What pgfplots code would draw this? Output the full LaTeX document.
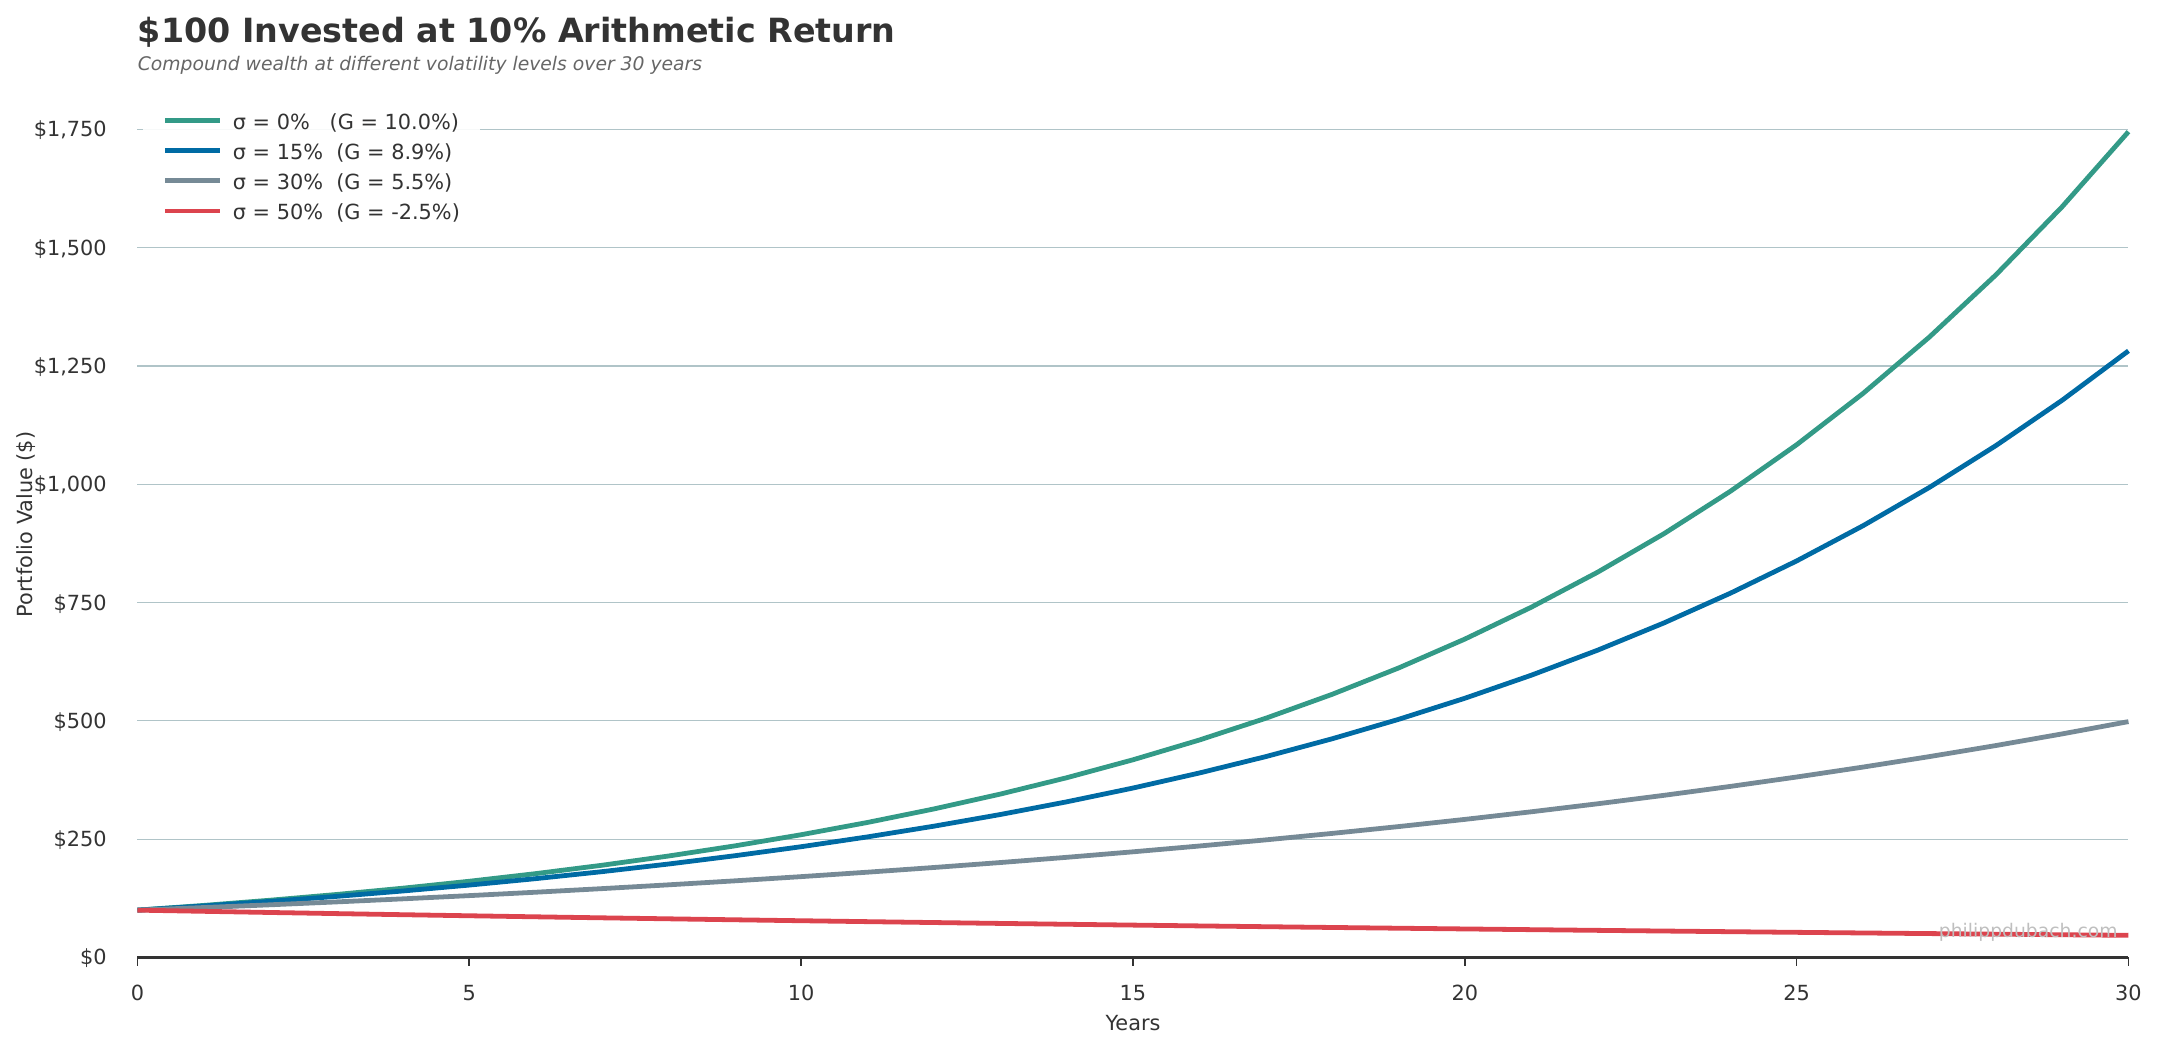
\documentclass[border=0pt]{standalone}
\usepackage{fontspec}
\setmainfont{DejaVu Sans}
\usepackage{pgfplots}
\pgfplotsset{compat=1.18}
\definecolor{cA}{HTML}{339A87}
\definecolor{cB}{HTML}{006BA4}
\definecolor{cC}{HTML}{768A96}
\definecolor{cD}{HTML}{DC444E}
\definecolor{gridc}{HTML}{B0C4C8}
\definecolor{txt}{HTML}{333333}
\definecolor{subc}{HTML}{666666}
\begin{document}
\begin{tikzpicture}
\useasboundingbox (-66pt,-44.4pt) rectangle (969.4pt,459.6pt);
\begin{axis}[
  at={(0,0)}, anchor=south west,
  scale only axis, width=955.7pt, height=415.7pt,
  xmin=0, xmax=30, ymin=0, ymax=1830,
  xtick={0,5,10,15,20,25,30},
  ytick={0,250,500,750,1000,1250,1500,1750},
  yticklabels={\$0,\$250,\$500,\$750,\$1{,}000,\$1{,}250,\$1{,}500,\$1{,}750},
  axis x line=bottom, axis y line=left,
  x axis line style={-, draw=txt, line width=1.1pt},
  y axis line style={draw=none},
  ytick style={draw=none},
  xtick style={draw=txt, line width=0.8pt},
  tick align=outside,
  major tick length=4pt,
  ymajorgrids, grid style={gridc, line width=0.55pt},
  tick label style={font=\fontsize{10}{12}\selectfont, text=txt},
  /pgf/number format/assume math mode=true,
  xticklabel style={anchor=base, inner sep=0pt, yshift=-16.8pt},
  yticklabel style={anchor=base east, inner sep=0pt, xshift=-10.6pt, yshift=-3.6pt},
  xlabel={Years}, ylabel={Portfolio Value (\$)},
  label style={font=\fontsize{10}{12}\selectfont, text=txt},
  xlabel style={at={(rel axis cs:0.5,0)}, anchor=base, yshift=-35.2pt, inner sep=0pt},
  ylabel style={at={(rel axis cs:0,0.5)}, anchor=base, yshift=50.2pt, inner sep=0pt},
  legend style={at={(rel axis cs:0,1)}, anchor=north west, xshift=2.4pt, yshift=-8.1pt,
    draw=none, fill=white, fill opacity=0.9, text opacity=1,
    font=\fontsize{10}{12}\selectfont, text=txt,
    inner xsep=9.5pt, inner ysep=2.2pt, row sep=5.35pt, column sep=5.0pt,
    nodes={inner sep=0pt}},
  legend cell align=left,
  legend image code/.code={\draw[#1] (0pt,1pt) -- (26.4pt,1pt);},
  clip=false,
]
\addplot[cA, line width=2.3pt] coordinates {
(0,100) (1,110) (2,121) (3,133.1) (4,146.41) (5,161.05) (6,177.16) (7,194.87) (8,214.36) (9,235.79) (10,259.37)
(11,285.31) (12,313.84) (13,345.23) (14,379.75) (15,417.72) (16,459.50) (17,505.45) (18,555.99) (19,611.59) (20,672.75)
(21,740.02) (22,814.03) (23,895.43) (24,984.97) (25,1083.47) (26,1191.82) (27,1311.00) (28,1442.10) (29,1586.31) (30,1744.94)};
\addlegendentry{σ = 0\%\ \ \ (G = 10.0\%)}
\addplot[cB, line width=2.3pt] coordinates {
(0,100) (1,108.88) (2,118.54) (3,129.06) (4,140.51) (5,152.98) (6,166.56) (7,181.34) (8,197.44) (9,214.96) (10,234.04)
(11,254.81) (12,277.42) (13,302.04) (14,328.85) (15,358.03) (16,389.81) (17,424.40) (18,462.07) (19,503.08) (20,547.73)
(21,596.34) (22,649.26) (23,706.88) (24,769.62) (25,837.92) (26,912.29) (27,993.25) (28,1081.41) (29,1177.38) (30,1281.87)};
\addlegendentry{σ = 15\%\ \ (G = 8.9\%)}
\addplot[cC, line width=2.3pt] coordinates {
(0,100) (1,105.5) (2,111.30) (3,117.42) (4,123.88) (5,130.70) (6,137.88) (7,145.47) (8,153.47) (9,161.91) (10,170.81)
(11,180.21) (12,190.12) (13,200.58) (14,211.61) (15,223.25) (16,235.53) (17,248.48) (18,262.15) (19,276.56) (20,291.78)
(21,307.82) (22,324.75) (23,342.61) (24,361.46) (25,381.34) (26,402.31) (27,424.44) (28,447.78) (29,472.41) (30,498.39)};
\addlegendentry{σ = 30\%\ \ (G = 5.5\%)}
\addplot[cD, line width=2.3pt] coordinates {
(0,100) (1,97.5) (2,95.06) (3,92.69) (4,90.37) (5,88.11) (6,85.91) (7,83.76) (8,81.67) (9,79.62) (10,77.63)
(11,75.69) (12,73.80) (13,71.95) (14,70.16) (15,68.40) (16,66.69) (17,65.02) (18,63.40) (19,61.81) (20,60.27)
(21,58.76) (22,57.29) (23,55.86) (24,54.46) (25,53.10) (26,51.77) (27,50.48) (28,49.22) (29,47.99) (30,46.79)};
\addlegendentry{σ = 50\%\ \ (G = -2.5\%)}
\node[anchor=base east, inner sep=0pt, text=black!25, font=\fontsize{9}{11}\selectfont] at (rel axis cs:0.9947,0.0236) {philippdubach.com};
\end{axis}
\node[anchor=base west, inner sep=0pt, text=txt, font=\fontsize{16}{19}\selectfont\bfseries] at (0pt,439.2pt) {\$100 Invested at 10\% Arithmetic Return};
\node[anchor=base west, inner sep=0pt, text=subc, font=\fontsize{9}{11}\selectfont\itshape] at (0pt,425.9pt) {Compound wealth at different volatility levels over 30 years};
\end{tikzpicture}
\end{document}
